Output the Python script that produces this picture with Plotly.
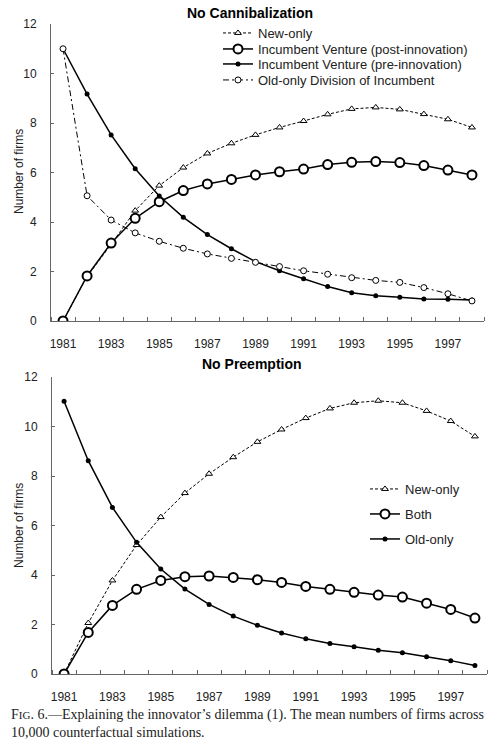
import plotly.graph_objects as go

# Data
years = list(range(1981, 1999))
year_labels = [str(y) for y in range(1981, 1999, 2)]

# No Cannibalization
nc_new_only = [0, 1.8, 3.1, 4.46, 5.47, 6.2, 6.77, 7.18, 7.52, 7.82, 8.08, 8.35, 8.57, 8.63, 8.55, 8.36, 8.15, 7.82]
nc_post = [0, 1.82, 3.15, 4.15, 4.82, 5.27, 5.54, 5.72, 5.9, 6.03, 6.14, 6.32, 6.41, 6.44, 6.4, 6.28, 6.1, 5.9]
nc_pre = [11.0, 9.17, 7.52, 6.15, 5.05, 4.19, 3.49, 2.92, 2.4, 2.03, 1.71, 1.39, 1.14, 1.02, 0.96, 0.89, 0.88, 0.85]
nc_old_div = [11.0, 5.06, 4.08, 3.56, 3.22, 2.94, 2.71, 2.53, 2.37, 2.2, 2.03, 1.89, 1.75, 1.64, 1.56, 1.35, 1.1, 0.81]

# No Preemption
np_new_only = [0, 2.06, 3.78, 5.21, 6.34, 7.31, 8.09, 8.76, 9.38, 9.88, 10.34, 10.73, 10.96, 11.04, 10.96, 10.63, 10.22, 9.6]
np_both = [0, 1.68, 2.77, 3.42, 3.78, 3.93, 3.96, 3.9, 3.81, 3.7, 3.54, 3.42, 3.3, 3.19, 3.11, 2.86, 2.61, 2.26]
np_old_only = [11.02, 8.62, 6.73, 5.32, 4.24, 3.43, 2.81, 2.34, 1.97, 1.66, 1.42, 1.23, 1.1, 0.96, 0.86, 0.7, 0.54, 0.34]

W, H = 498, 749
SANS = "Liberation Sans, Arial, sans-serif"
SERIF = "Liberation Serif, Times New Roman, serif"


def px_y(p):
    return 1 - p / H


# marker / line styles per series kind
tri = dict(symbol="triangle-up", size=6, color="white", line=dict(color="black", width=1))
big_circle = dict(symbol="circle", size=9, color="white", line=dict(color="black", width=2))
dot = dict(symbol="circle", size=5, color="black", line=dict(color="black", width=0))
small_circle = dict(symbol="circle", size=6, color="white", line=dict(color="black", width=1))
dashed = dict(color="black", width=1, dash="3px,2px")
solid = dict(color="black", width=1.5)
dashdot = dict(color="black", width=1, dash="6px,3px,2px,3px")

fig = go.Figure()

# top chart (one legend box per entry so spacing can match)
fig.add_trace(go.Scatter(x=years, y=nc_new_only, name="New-only", mode="lines+markers",
                         line=dashed, marker=tri, xaxis="x", yaxis="y", legend="legend", showlegend=True))
fig.add_trace(go.Scatter(x=years, y=nc_post, name="Incumbent Venture (post-innovation)", mode="lines+markers",
                         line=solid, marker=big_circle, xaxis="x", yaxis="y", legend="legend2", showlegend=True))
fig.add_trace(go.Scatter(x=years, y=nc_pre, name="Incumbent Venture (pre-innovation)", mode="lines+markers",
                         line=solid, marker=dot, xaxis="x", yaxis="y", legend="legend3", showlegend=True))
fig.add_trace(go.Scatter(x=years, y=nc_old_div, name="Old-only Division of Incumbent", mode="lines+markers",
                         line=dashdot, marker=small_circle, xaxis="x", yaxis="y", legend="legend4", showlegend=True))

# bottom chart
fig.add_trace(go.Scatter(x=years, y=np_new_only, name="New-only", mode="lines+markers",
                         line=dashed, marker=tri, xaxis="x2", yaxis="y2", legend="legend5", showlegend=True))
fig.add_trace(go.Scatter(x=years, y=np_both, name="Both", mode="lines+markers",
                         line=solid, marker=big_circle, xaxis="x2", yaxis="y2", legend="legend6", showlegend=True))
fig.add_trace(go.Scatter(x=years, y=np_old_only, name="Old-only", mode="lines+markers",
                         line=solid, marker=dot, xaxis="x2", yaxis="y2", legend="legend7", showlegend=True))

axis_color = "#666666"
xcommon = dict(range=[1980.5, 1998.5], tickvals=[int(t) for t in year_labels], ticktext=year_labels,
               ticks="", showline=True, linecolor=axis_color, linewidth=1, showgrid=False,
               zeroline=False, ticklabelstandoff=12, automargin=False,
               tickfont=dict(family=SANS, size=12, color="#222"),
               minor=dict(tick0=1980.5, dtick=1, ticks="inside", ticklen=4, tickcolor=axis_color,
                          tickwidth=1, showgrid=False))
ycommon = dict(range=[0, 12], tickvals=[0, 2, 4, 6, 8, 10, 12], ticks="inside", ticklen=3,
               tickcolor=axis_color, showline=True, linecolor=axis_color, linewidth=1,
               showgrid=False, zeroline=False, ticklabelstandoff=11, automargin=False,
               tickfont=dict(family=SANS, size=12, color="#222"))


def leg(xp, yp):
    return dict(x=xp / W, y=px_y(yp), xanchor="left", yanchor="middle", bgcolor="rgba(0,0,0,0)",
                font=dict(family=SANS, size=13, color="#222"), itemwidth=30)


fig.update_layout(
    width=W, height=H, margin=dict(l=0, r=0, t=0, b=0), showlegend=True,
    paper_bgcolor="white", plot_bgcolor="white",
    xaxis=dict(domain=[51 / W, 484 / W], anchor="y", **xcommon),
    yaxis=dict(domain=[px_y(321), px_y(24)], anchor="x", **ycommon),
    xaxis2=dict(domain=[52 / W, 487 / W], anchor="y2", **xcommon),
    yaxis2=dict(domain=[px_y(674), px_y(377)], anchor="x2", **ycommon),
    legend=leg(218, 33), legend2=leg(218, 49), legend3=leg(218, 64), legend4=leg(218, 80),
    legend5=leg(365, 489), legend6=leg(365, 514), legend7=leg(365, 539),
)

# titles
fig.add_annotation(text="<b>No Cannibalization</b>", x=250 / W, y=px_y(13), xref="paper", yref="paper",
                   xanchor="center", yanchor="middle", showarrow=False,
                   font=dict(family=SANS, size=14, color="black"))
fig.add_annotation(text="<b>No Preemption</b>", x=252 / W, y=px_y(364), xref="paper", yref="paper",
                   xanchor="center", yanchor="middle", showarrow=False,
                   font=dict(family=SANS, size=14, color="black"))
for yc in (172, 526):
    fig.add_annotation(text="Number of firms", x=19 / W, y=px_y(yc), xref="paper", yref="paper",
                       xanchor="center", yanchor="middle", textangle=-90, showarrow=False,
                       font=dict(family=SANS, size=12, color="#222"))

# caption
fig.add_annotation(
    text="F<span style='font-size:11px'>IG</span>. 6.—Explaining the innovator’s dilemma (1). "
         "The mean numbers of firms across<br>10,000 counterfactual simulations.",
    x=9 / W, y=px_y(705), xref="paper", yref="paper", xanchor="left", yanchor="top",
    align="left", showarrow=False, font=dict(family=SERIF, size=14, color="#222"))

# the page's default body margin would shift the figure by 8px
fig.write_html("out.html", config={"displayModeBar": False},
               post_script="document.body.style.margin='0';")
